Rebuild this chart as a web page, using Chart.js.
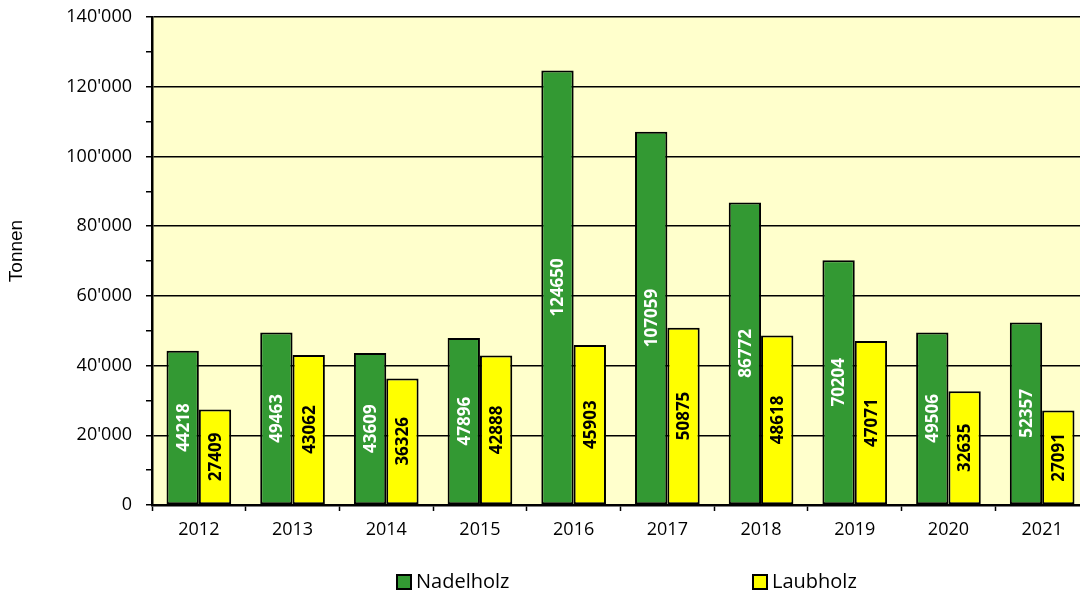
<!DOCTYPE html>
<html>
<head>
<meta charset="utf-8">
<script src="https://cdn.jsdelivr.net/npm/chart.js@4/dist/chart.umd.min.js"></script>
<style>
html,body{margin:0;padding:0;background:#fff;overflow:hidden;width:1080px;height:599px;}
canvas{display:block;}
</style>
</head>
<body>
<canvas id="c" width="1100" height="599"></canvas>
<script>
const years = ['2012','2013','2014','2015','2016','2017','2018','2019','2020','2021'];
const nadelholz = [44218, 49463, 43609, 47896, 124650, 107059, 86772, 70204, 49506, 52357];
const laubholz = [27409, 43062, 36326, 42888, 45903, 50875, 48618, 47071, 32635, 27091];
const seriesNames = ['Nadelholz', 'Laubholz'];
const seriesColors = ['#339933', '#FFFF00'];
const labelColors = ['#ffffff', '#000000'];
const axisTitle = 'Tonnen';
const yMax = 140000;
const yStep = 20000;

function fmt(v){
  return String(v).replace(/\B(?=(\d{3})+(?!\d))/g, "'");
}

const bgPlugin = {
  id: 'bg',
  beforeDraw(chart){
    const {ctx, chartArea:a} = chart;
    ctx.save();
    ctx.fillStyle = '#ffffff';
    ctx.fillRect(0,0,chart.width,chart.height);
    ctx.fillStyle = '#FFFFCC';
    ctx.fillRect(a.left, a.top, a.right-a.left, a.bottom-a.top);
    ctx.restore();
  },
  afterDraw(chart){
    const ctx = chart.ctx;
    ctx.save();
    ctx.font = '19px "Liberation Sans"';
    ctx.fillStyle = '#000';
    ctx.textAlign = 'center';
    ctx.textBaseline = 'middle';
    ctx.translate(17, 251);
    ctx.rotate(-Math.PI/2);
    ctx.fillText(axisTitle, 0, 0);
    ctx.restore();
  }
};

const valueLabels = {
  id: 'valueLabels',
  afterDatasetsDraw(chart){
    const ctx = chart.ctx;
    ctx.save();
    ctx.font = 'bold 17px "Open Sans"';
    ctx.textAlign = 'center';
    ctx.textBaseline = 'middle';
    chart.data.datasets.forEach((ds, di) => {
      const meta = chart.getDatasetMeta(di);
      meta.data.forEach((el, i) => {
        const cy = (el.y + el.base) / 2;
        ctx.save();
        ctx.translate(el.x, cy);
        ctx.rotate(-Math.PI/2);
        ctx.fillStyle = labelColors[di];
        ctx.fillText(String(ds.data[i]), 0, 1);
        ctx.restore();
      });
    });
    ctx.restore();
  }
};

const legendPlugin = {
  id: 'customLegend',
  afterDraw(chart){
    const ctx = chart.ctx;
    const xs = [397, 753];
    const y = 575;
    ctx.save();
    ctx.font = '20px "Open Sans"';
    ctx.textBaseline = 'middle';
    ctx.textAlign = 'left';
    chart.data.datasets.forEach((ds, di) => {
      ctx.fillStyle = ds.backgroundColor;
      ctx.fillRect(xs[di], y, 14, 14);
      ctx.strokeStyle = '#000';
      ctx.lineWidth = 2;
      ctx.strokeRect(xs[di], y, 14, 14);
      ctx.fillStyle = '#000';
      ctx.fillText(ds.label, xs[di] + 19, y + 7);
    });
    ctx.restore();
  }
};

new Chart(document.getElementById('c'), {
  type: 'bar',
  data: {
    labels: years,
    datasets: [
      { label: seriesNames[0], data: nadelholz, backgroundColor: seriesColors[0], borderColor: '#000', borderWidth: 2, borderSkipped: false },
      { label: seriesNames[1], data: laubholz, backgroundColor: seriesColors[1], borderColor: '#000', borderWidth: 2, borderSkipped: false }
    ]
  },
  options: {
    responsive: false,
    animation: false,
    devicePixelRatio: 1,
    layout: { padding: { top: 17, right: 11, bottom: 50, left: 0 } },
    datasets: { bar: { categoryPercentage: 0.69, barPercentage: 1.0 } },
    plugins: {
      legend: { display: false },
      tooltip: { enabled: false }
    },
    scales: {
      x: {
        grid: { offset: true, drawOnChartArea: false, drawTicks: true, tickLength: 6, tickColor: '#000', tickWidth: 1.5 },
        border: { color: '#000', width: 2.5 },
        ticks: { color: '#000', font: { family: '"Open Sans"', size: 18 }, padding: 8 },
        afterFit(scale){ scale.height = 44; scale.paddingLeft = 0; scale.paddingRight = 0; }
      },
      y: {
        min: 0, max: yMax,
        grid: {
          color: (c) => (c.tick && c.tick.value % yStep === 0 && c.tick.value !== 0) ? '#000' : 'rgba(0,0,0,0)',
          lineWidth: 1.5,
          drawTicks: true, tickLength: 6, tickColor: '#000', tickWidth: 1.5
        },
        border: { color: '#000', width: 2.5 },
        ticks: {
          stepSize: yStep / 2, autoSkip: false, color: '#000',
          font: { family: '"Open Sans"', size: 18 }, padding: 14,
          callback: (v) => (v % yStep === 0) ? fmt(v) : ''
        },
        afterFit(scale){ scale.width = 152; scale.paddingTop = 0; scale.paddingBottom = 0; }
      }
    }
  },
  plugins: [bgPlugin, valueLabels, legendPlugin]
});
</script>
</body>
</html>
